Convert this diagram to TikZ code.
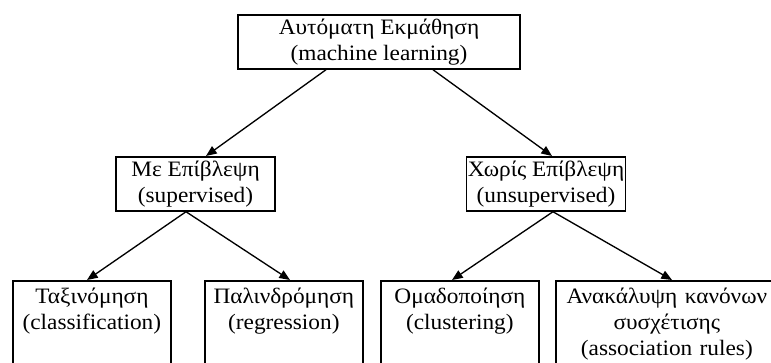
\documentclass[tikz,border=0pt]{standalone}
\usepackage{fontspec}
\setmainfont{Liberation Serif}[FakeStretch=1.06]
\usetikzlibrary{arrows.meta,calc}
\tikzset{
  box/.style={draw=black, line width=1.3pt, rectangle, inner sep=0pt,
    align=center, font=\fontsize{16.5}{19.5}\selectfont},
  midbox/.style={box, minimum width=119.25pt, minimum height=40.5pt, anchor=north},
  leafbox/.style={box, minimum width=118.5pt, anchor=north west, inner ysep=5.5pt,
    text depth=80pt, text width=118.5pt},
  arr/.style={line width=1pt, -{Triangle[length=8pt,width=6.5pt]}},
}
\begin{document}
\begin{tikzpicture}[x=0.75pt,y=-0.75pt]
  \clip (0,0) rectangle (771,363);
  % root
  \node[box, minimum width=211.5pt, minimum height=40.5pt, anchor=north] (root) at (379,14)
    {Αυτόματη Εκμάθηση\\(machine learning)};
  % second level
  \node[midbox] (sup) at (195.5,156) {Με Επίβλεψη\\(supervised)};
  \node[midbox] (uns) at (546,156) {Χωρίς Επίβλεψη\\(unsupervised)};
  % leaves
  \node[leafbox] (cls) at (12,280) {Ταξινόμηση\\(classification)};
  \node[leafbox] (reg) at (204,280) {Παλινδρόμηση\\(regression)};
  \node[leafbox] (clu) at (380,280) {Ομαδοποίηση\\(clustering)};
  \node[leafbox, minimum width=166.5pt, text width=166.5pt] (asr) at (555,280)
    {Ανακάλυψη κανόνων\\συσχέτισης\\(association rules)};
  % connectors
  \draw[arr] ($(root.south)+(-53,0)$) -- ($(sup.north)+(10.5,0)$);
  \draw[arr] ($(root.south)+(54,0)$) -- ($(uns.north)+(6,0)$);
  \draw[arr] ($(sup.south)+(-9.5,0)$) -- ($(cls.north west)+(75,0)$);
  \draw[arr] ($(sup.south)+(-9.5,0)$) -- ($(reg.north west)+(86,0)$);
  \draw[arr] ($(uns.south)+(7,0)$) -- ($(clu.north west)+(72,0)$);
  \draw[arr] ($(uns.south)+(7,0)$) -- ($(asr.north west)+(117,0)$);
\end{tikzpicture}
\end{document}
